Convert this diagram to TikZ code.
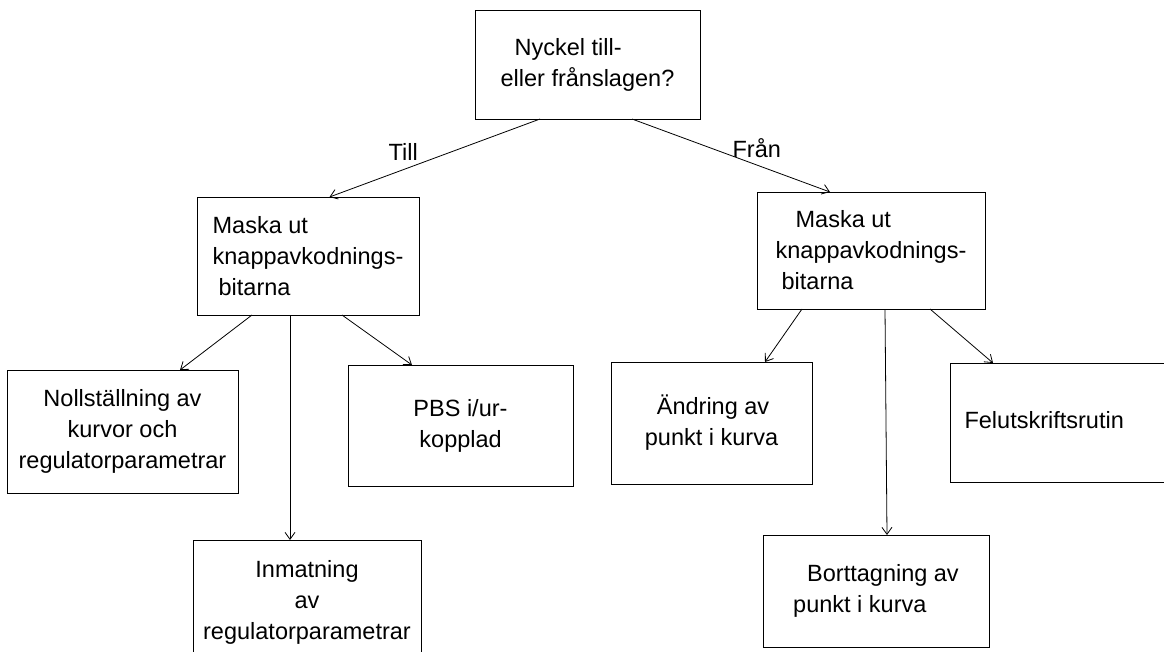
\documentclass[tikz,border=0pt]{standalone}
\usepackage{fontspec}
\setmainfont{Liberation Sans}
\usetikzlibrary{arrows.meta}

\begin{document}
\begin{tikzpicture}[x=1pt, y=-1pt,
            every node/.style={font=\fontsize{23.5}{31}\selectfont},
            box/.style={draw, rectangle, inner sep=0pt, outer sep=0pt, align=left, line width=0.9pt},
            arrow/.style={line width=0.8pt,-{Straight Barb[length=7pt,width=10pt]}}]
            \useasboundingbox (0,0) rectangle (1164,651);
            \clip (0,0) rectangle (1164,651);

            % Nodes
            \node (key) [box, minimum width=225pt, minimum height=109pt] at (587.5,64.5) {\hspace*{14pt}Nyckel till-\\eller frånslagen?};
            \node (maskl) [box, minimum width=222pt, minimum height=118pt] at (308,256) {Maska ut\\knappavkodnings-\\\hspace*{6pt}bitarna};
            \node (maskr) [box, minimum width=228pt, minimum height=117pt] at (871,250.5) {\hspace*{20pt}Maska ut\\knappavkodnings-\\\hspace*{6pt}bitarna};
            \node (reset) [box, align=center, minimum width=231pt, minimum height=123pt] at (122.5,431.5) {Nollställning av\\kurvor och\\regulatorparametrar};
            \node (pbs) [box, minimum width=225pt, minimum height=121pt] at (460.5,425.5) {PBS i/ur-\\\hspace*{6pt}kopplad};
            \node (input) [box, align=center, minimum width=228pt, minimum height=125pt] at (307,602.5) {Inmatning\\av\\regulatorparametrar};
            \node (change) [box, minimum width=201pt, minimum height=122pt] at (711.5,423) {\hspace*{12pt}Ändring av\\punkt i kurva};
            \node (remove) [box, minimum width=226pt, minimum height=112pt] at (876,591) {\hspace*{14pt}Borttagning av\\punkt i kurva};
            \node (error) [box, minimum width=230pt, minimum height=119pt] at (1065,422.5) {};
            \node (errtext) [anchor=west] at (961,420) {Felutskriftsrutin};

            % Arrows
            \draw [arrow] ([xshift=-47.5pt]key.south) -- node[above=5pt, pos=0.65] {Till} ([xshift=21.5pt]maskl.north);
            \draw [arrow] ([xshift=44.5pt]key.south) -- node[above=4pt, pos=0.63] {Från} ([xshift=-41pt]maskr.north);
            \draw [arrow] ([xshift=-56pt]maskl.south) -- ([xshift=57.5pt]reset.north);
            \draw [arrow] ([xshift=-18pt]maskl.south) -- ([xshift=-17pt]input.north);
            \draw [arrow] ([xshift=34pt]maskl.south) -- ([xshift=-48.5pt]pbs.north);
            \draw [arrow] ([xshift=-69pt]maskr.south) -- ([xshift=53.5pt]change.north);
            \draw [arrow] ([xshift=14pt]maskr.south) -- ([xshift=11pt]remove.north);
            \draw [arrow] ([xshift=59pt]maskr.south) -- ([xshift=-72pt]error.north);
        \end{tikzpicture}
\end{document}
